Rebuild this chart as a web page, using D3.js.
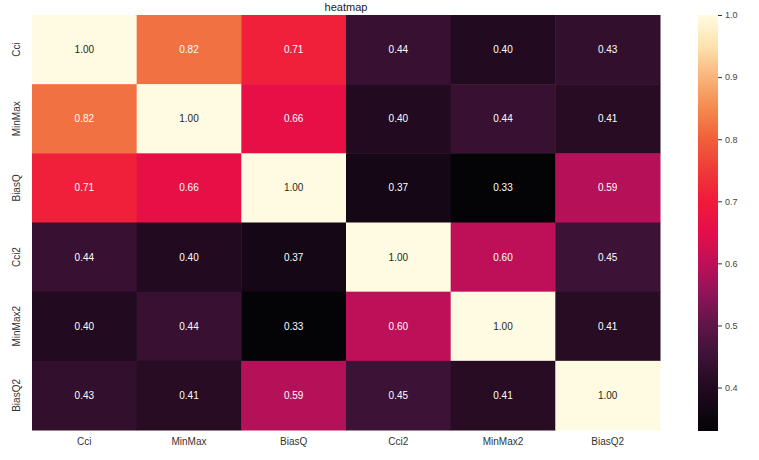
<!DOCTYPE html>
<html><head><meta charset="utf-8">
<script src="https://cdn.jsdelivr.net/npm/d3@7"></script>
<style>body{margin:0;background:#fff;} svg{display:block;font-family:"Liberation Sans",Arial,sans-serif;}</style>
</head><body><svg id="c" width="759" height="460"></svg>
<script>
const labels = ["Cci","MinMax","BiasQ","Cci2","MinMax2","BiasQ2"];
const values = [
  [1.00,0.82,0.71,0.44,0.40,0.43],
  [0.82,1.00,0.66,0.40,0.44,0.41],
  [0.71,0.66,1.00,0.37,0.33,0.59],
  [0.44,0.40,0.37,1.00,0.60,0.45],
  [0.40,0.44,0.33,0.60,1.00,0.41],
  [0.43,0.41,0.59,0.45,0.41,1.00]
];
const colorTicks = [0.4,0.5,0.6,0.7,0.8,0.9,1.0];
const vmin = 0.33, vmax = 1.0;
const stopVals = [0.33,0.35,0.40,0.45,0.50,0.55,0.60,0.65,0.70,0.75,0.80,0.85,0.90,0.95,1.00];
const stopCols = ["#040306","#0c050d","#220a20","#3c1236","#5e1548","#8e1458","#be1058","#e40e4a","#f01a3a","#f03a38","#f0603a","#f48a4e","#f8b47a","#fde2ae","#fffbe2"];

const svg = d3.select("#c");
const color = d3.scaleLinear().domain(stopVals).range(stopCols).interpolate(d3.interpolateRgb).clamp(true);

const x = d3.scaleBand().domain(labels).range([32,660]);
const y = d3.scaleBand().domain(labels).range([15,430]);

const cells = [];
values.forEach((row,i)=>row.forEach((v,j)=>cells.push({r:labels[i],c:labels[j],v})));

svg.append("g").selectAll("rect").data(cells).join("rect")
  .attr("x",d=>x(d.c)).attr("y",d=>y(d.r))
  .attr("width",x.bandwidth()+0.5).attr("height",y.bandwidth()+0.5)
  .attr("fill",d=>color(d.v));

svg.append("g").selectAll("text").data(cells).join("text")
  .attr("x",d=>x(d.c)+x.bandwidth()/2).attr("y",d=>y(d.r)+y.bandwidth()/2)
  .attr("text-anchor","middle").attr("dominant-baseline","central")
  .attr("font-size",10)
  .attr("fill",d=>d.v>0.9?"#262626":"#ffffff")
  .text(d=>d.v.toFixed(2));

// x axis labels
svg.append("g").selectAll("text").data(labels).join("text")
  .attr("x",d=>x(d)+x.bandwidth()/2).attr("y",445)
  .attr("text-anchor","middle").attr("font-size",10).attr("fill","#333")
  .text(d=>d);

// y axis labels
svg.append("g").selectAll("text").data(labels).join("text")
  .attr("transform",d=>`translate(20,${y(d)+y.bandwidth()/2}) rotate(-90)`)
  .attr("text-anchor","middle").attr("font-size",10).attr("fill","#333")
  .text(d=>d);

// title
svg.append("text").attr("x",346).attr("y",11).attr("text-anchor","middle")
  .attr("font-size",11).attr("fill","#222").text("heatmap");

// colorbar
const cb = d3.scaleLinear().domain([vmin,vmax]).range([431,15]);
const defs = svg.append("defs");
const grad = defs.append("linearGradient").attr("id","cbg")
  .attr("x1","0").attr("y1","1").attr("x2","0").attr("y2","0");
grad.selectAll("stop").data(stopVals).join("stop")
  .attr("offset",d=>(d-vmin)/(vmax-vmin))
  .attr("stop-color",d=>color(d));
svg.append("rect").attr("x",698).attr("y",cb(vmax)).attr("width",20)
  .attr("height",cb(vmin)-cb(vmax)).attr("fill","url(#cbg)");
const cbAxis = d3.axisRight(cb).tickValues(colorTicks).tickFormat(d3.format(".1f")).tickSize(4).tickPadding(3);
const ga = svg.append("g").attr("transform","translate(718,0)").call(cbAxis);
ga.select(".domain").remove();
ga.selectAll("line").attr("stroke","#333");
ga.selectAll("text").attr("font-size",9).attr("fill","#444").attr("font-family","Liberation Sans, Arial, sans-serif");
</script></body></html>
